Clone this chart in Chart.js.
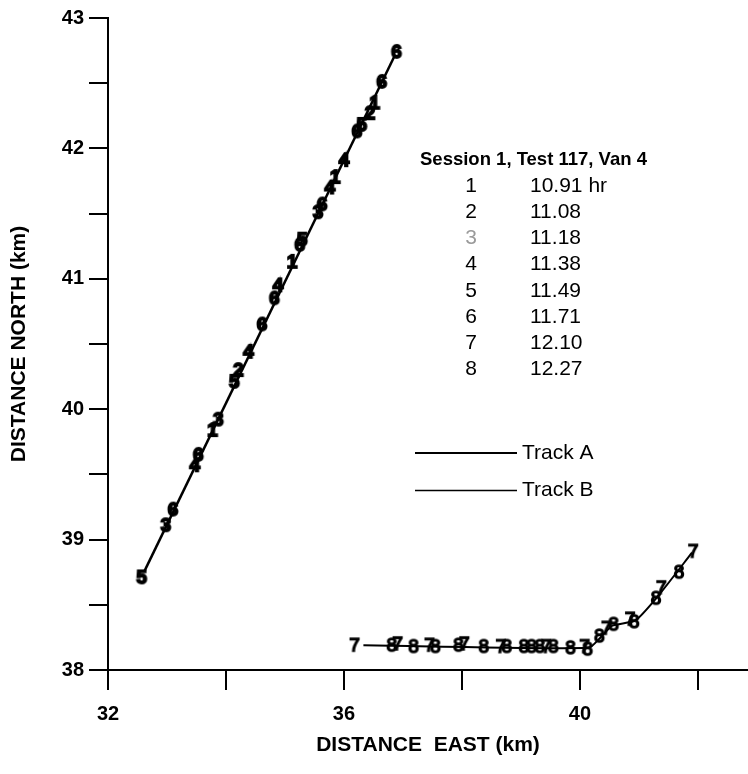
<!DOCTYPE html>
<html>
<head>
<meta charset="utf-8">
<script src="https://cdn.jsdelivr.net/npm/chart.js@4.4.1/dist/chart.umd.min.js"></script>
<style>
  html, body { margin: 0; padding: 0; background: #fff; }
  canvas { display: block; }
</style>
</head>
<body>
<canvas id="trackChart" width="748" height="774"></canvas>
<script>
// --- track lines (km) ---
const trackAEast  = [32.62, 36.87];
const trackANorth = [38.76, 42.72];

const trackBEast  = [36.33, 40.15, 40.35, 40.55, 40.94, 41.33, 41.90];
const trackBNorth = [38.19, 38.17, 38.25, 38.34, 38.38, 38.57, 38.90];

// --- numbered positions along track A ---
const markerAEast  = [32.57, 32.98, 33.10, 33.47, 33.53, 33.77, 33.87, 34.14, 34.21, 34.38, 34.61, 34.82, 34.88, 35.12,
                      35.25, 35.29, 35.56, 35.63, 35.76, 35.85, 36.00, 36.22, 36.30, 36.44, 36.52, 36.64, 36.89];
const markerANorth = [38.71, 39.11, 39.23, 39.57, 39.65, 39.84, 39.92, 40.21, 40.30, 40.44, 40.65, 40.85, 40.95, 41.13,
                      41.26, 41.30, 41.51, 41.57, 41.70, 41.78, 41.91, 42.13, 42.18, 42.27, 42.35, 42.51, 42.74];
const markerADigit = [5, 3, 6, 4, 6, 1, 3, 5, 2, 4, 6, 6, 4, 1, 6, 5, 3, 6, 4, 1, 4, 6, 5, 2, 1, 6, 6];

// --- numbered positions along track B ---
const markerBEast  = [36.18, 36.81, 36.91, 37.18, 37.45, 37.55, 37.94, 38.04, 38.37, 38.66, 38.76, 39.05, 39.18,
                      39.32, 39.43, 39.55, 39.84, 40.08, 40.13, 40.33, 40.45, 40.57, 40.85, 40.92, 41.29, 41.38,
                      41.68, 41.92];
const markerBNorth = [38.19, 38.19, 38.20, 38.18, 38.19, 38.18, 38.19, 38.20, 38.18, 38.18, 38.18, 38.18, 38.18,
                      38.18, 38.18, 38.18, 38.17, 38.18, 38.16, 38.26, 38.32, 38.35, 38.39, 38.37, 38.55, 38.63,
                      38.75, 38.91];
const markerBDigit = [7, 8, 7, 8, 7, 8, 8, 7, 8, 7, 8, 8, 8, 8, 7, 8, 8, 7, 8, 8, 7, 8, 7, 8, 8, 7, 8, 7];

// --- legend ---
const legendTitle  = 'Session 1, Test 117, Van 4';
const legendDigits = ['1', '2', '3', '4', '5', '6', '7', '8'];
const legendTimes  = ['10.91 hr', '11.08', '11.18', '11.38', '11.49', '11.71', '12.10', '12.27'];
const trackNames   = ['Track A', 'Track B'];

const FONT = '"Liberation Sans", Arial, Helvetica, sans-serif';

// digit glyphs used as point styles (heavy ones for the over-printed track A)
function makeDigits(weight, stroke) {
  const out = {};
  for (let d = 1; d <= 8; d++) {
    const c = document.createElement('canvas');
    c.width = 16; c.height = 22;
    const g = c.getContext('2d');
    g.font = weight + ' 19px ' + FONT;
    g.textAlign = 'center';
    g.textBaseline = 'middle';
    g.fillStyle = '#000';
    g.strokeStyle = '#000';
    g.lineWidth = stroke;
    g.fillText(String(d), 8, 12);
    g.strokeText(String(d), 8, 12);
    out[d] = c;
  }
  return out;
}
const digitHeavy = makeDigits('bold', 1.8);
const digitPlain = makeDigits('normal', 1.5);

const toPts = (xs, ys) => xs.map((x, i) => ({ x, y: ys[i] }));

const legendPlugin = {
  id: 'legendText',
  afterDraw(chart) {
    const g = chart.ctx;
    g.save();
    g.fillStyle = '#000';
    g.textBaseline = 'middle';
    g.font = 'bold 18.5px ' + FONT;
    g.textAlign = 'left';
    g.fillText(legendTitle, 420, 160);

    g.font = '21px ' + FONT;
    legendDigits.forEach((d, i) => {
      const y = 186 + i * 26.2;
      g.textAlign = 'center';
      g.fillStyle = d === '3' ? '#9a9a9a' : '#000';
      g.fillText(d, 471, y);
      g.fillStyle = '#000';
      g.textAlign = 'left';
      g.fillText(legendTimes[i], 530, y);
    });

    g.strokeStyle = '#000';
    trackNames.forEach((t, i) => {
      const y = 453 + i * 37.5;
      g.lineWidth = i === 0 ? 2 : 1.6;
      g.beginPath();
      g.moveTo(415, y);
      g.lineTo(517, y);
      g.stroke();
      g.textAlign = 'left';
      g.fillText(t, 522, y);
    });
    g.restore();
  }
};

const ctx = document.getElementById('trackChart');
const trackChart = new Chart(ctx, {
  type: 'scatter',
  data: {
    datasets: [
      {
        label: 'Track A',
        data: toPts(trackAEast, trackANorth),
        showLine: true,
        borderColor: '#000',
        borderWidth: 2.5,
        pointRadius: 0
      },
      {
        label: 'Track B',
        data: toPts(trackBEast, trackBNorth),
        showLine: true,
        borderColor: '#000',
        borderWidth: 2,
        tension: 0.2,
        pointRadius: 0
      },
      {
        label: 'A times',
        data: toPts(markerAEast, markerANorth),
        pointStyle: c => digitHeavy[markerADigit[c.dataIndex]],
        pointRadius: 8
      },
      {
        label: 'B times',
        data: toPts(markerBEast, markerBNorth),
        pointStyle: c => digitPlain[markerBDigit[c.dataIndex]],
        pointRadius: 8
      }
    ]
  },
  options: {
    responsive: false,
    animation: false,
    layout: { autoPadding: false, padding: { top: 18, right: 0, left: 0, bottom: 0 } },
    scales: {
      x: {
        type: 'linear',
        min: 32, max: 42.85,
        afterFit: s => { s.height = 104; s.paddingRight = 0; s.paddingLeft = 0; },
        border: { display: true, color: '#000', width: 2 },
        grid: { drawOnChartArea: false, drawTicks: true, tickLength: 20, color: '#000', lineWidth: 2 },
        ticks: {
          stepSize: 2,
          includeBounds: false,
          padding: 12,
          color: '#000',
          font: { family: FONT, size: 20, weight: 'bold' },
          maxRotation: 0,
          autoSkip: false,
          callback: v => (v % 4 === 0 ? v : '')
        },
        title: {
          display: true,
          text: 'DISTANCE  EAST (km)',
          color: '#000',
          font: { family: FONT, size: 21, weight: 'bold' },
          padding: { top: 0, bottom: 16 }
        }
      },
      y: {
        type: 'linear',
        min: 38, max: 43,
        afterFit: s => { s.width = 108; },
        border: { display: true, color: '#000', width: 2 },
        grid: { drawOnChartArea: false, drawTicks: true, tickLength: 19, color: '#000', lineWidth: 2 },
        ticks: {
          stepSize: 0.5,
          padding: 5,
          color: '#000',
          font: { family: FONT, size: 20, weight: 'bold' },
          autoSkip: false,
          callback: v => (Number.isInteger(v) ? v : '')
        },
        title: {
          display: true,
          text: 'DISTANCE NORTH (km)',
          color: '#000',
          font: { family: FONT, size: 21, weight: 'bold' },
          padding: { top: 7, bottom: 0 }
        }
      }
    },
    plugins: {
      legend: { display: false },
      tooltip: { enabled: false }
    }
  },
  plugins: [legendPlugin]
});
</script>
</body>
</html>
